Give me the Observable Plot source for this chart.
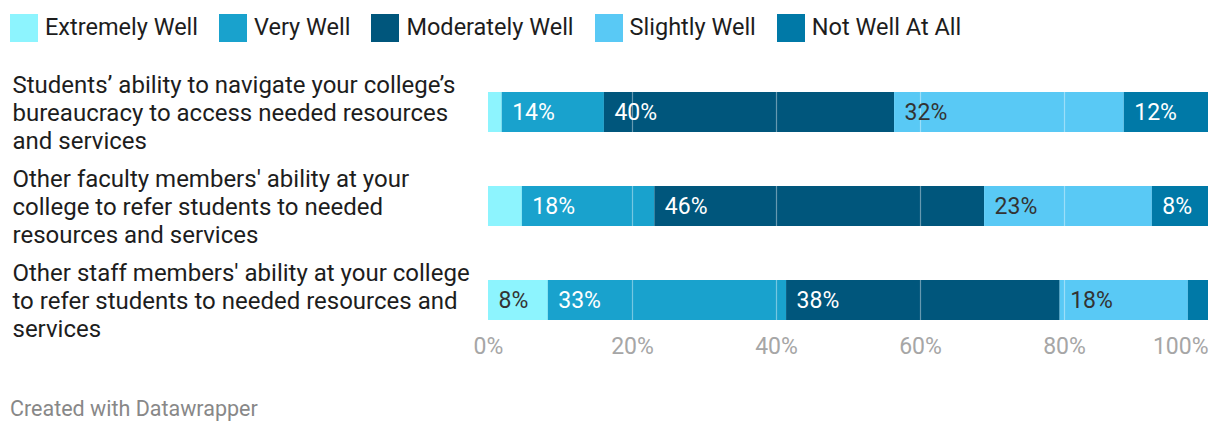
<!DOCTYPE html>
<html>
<head>
<meta charset="utf-8">
<script src="https://cdn.jsdelivr.net/npm/d3@7"></script>
<script src="https://cdn.jsdelivr.net/npm/@observablehq/plot@0.6"></script>
<style>
  body { margin: 0; background: #fff; font-family: Roboto, "Noto Sans", sans-serif; }
  #legend { height: 50px; display: flex; align-items: center; padding-left: 10px; box-sizing: border-box; padding-top: 6px; }
  .item { display: flex; align-items: center; margin-right: 21px; font-size: 23.5px; color: #1d1d1d; }
  .sw { width: 28px; height: 28px; margin-right: 7px; }
  .item span { position: relative; top: -1px; }
  #footer { font-size: 21.5px; color: #888; padding-left: 10px; margin-top: 16px; line-height: 26px; }
</style>
</head>
<body>
<div id="legend"></div>
<div id="chart"></div>
<div id="footer">Created with Datawrapper</div>
<script>
const questions = [
  "Students’ ability to navigate your college’s\nbureaucracy to access needed resources\nand services",
  "Other faculty members' ability at your\ncollege to refer students to needed\nresources and services",
  "Other staff members' ability at your college\nto refer students to needed resources and\nservices"
];
const categories = ["Extremely Well", "Very Well", "Moderately Well", "Slightly Well", "Not Well At All"];
const colors = ["#8df4fe", "#19a2cd", "#00567c", "#59c9f5", "#0079a7"];
const lightCategories = ["Extremely Well", "Slightly Well"];
// values (%) per question, in category order
const values = [
  [1.9, 14.2, 40.3, 31.9, 11.7],
  [4.7, 18.4, 45.8, 23.3, 7.8],
  [8.3, 33.1, 38.0, 17.8, 2.8]
];
const xTicks = [0, 20, 40, 60, 80, 100];
const gridTicks = [20, 40, 60, 80];

const data = [];
questions.forEach((q, i) => categories.forEach((c, j) => data.push({question: q, category: c, value: values[i][j]})));

const grid = [];
questions.forEach(q => gridTicks.forEach(t => grid.push({question: q, t})));

// legend
const legend = document.getElementById("legend");
categories.forEach((c, i) => {
  const it = document.createElement("div");
  it.className = "item";
  it.innerHTML = `<div class="sw" style="background:${colors[i]}"></div><span>${c}</span>`;
  legend.appendChild(it);
});

const labelMin = 6;
const lbl = light => d => (d.value >= labelMin && lightCategories.includes(d.category) === light) ? Math.round(d.value) + "%" : "";

const chart = Plot.plot({
  width: 1220,
  height: 330,
  marginLeft: 488,
  marginRight: 12,
  marginTop: 0,
  marginBottom: 50,
  style: {fontFamily: "Roboto, 'Noto Sans', sans-serif", background: "white"},
  x: {domain: [0, 100], axis: null},
  y: {domain: questions, range: [42, 270], paddingInner: 0.5745, paddingOuter: 0, axis: null},
  color: {domain: categories, range: colors},
  marks: [
    Plot.barX(data, {x: "value", y: "question", fill: "category", order: null}),
    Plot.tickX(grid, {x: "t", y: "question", stroke: "white", strokeOpacity: 0.4, strokeWidth: 1.2}),
    Plot.text(data, Plot.stackX1({
      x: "value", y: "question", order: null,
      text: lbl(false), fill: "white", textAnchor: "start", dx: 10, fontSize: 23
    })),
    Plot.text(data, Plot.stackX1({
      x: "value", y: "question", order: null,
      text: lbl(true), fill: "#333", textAnchor: "start", dx: 10, fontSize: 23
    })),
    Plot.text(questions, {
      y: d => d, text: d => d, frameAnchor: "left", dx: -476, textAnchor: "start",
      fontSize: 24, fill: "#1d1d1d", lineHeight: 28 / 24
    }),
    Plot.text(xTicks.filter(t => t < 100), {
      x: d => d, text: d => d + "%", frameAnchor: "bottom", dy: 23, fontSize: 23, fill: "#a6a6a6"
    }),
    Plot.text(xTicks.filter(t => t === 100), {
      x: d => d, text: d => d + "%", frameAnchor: "bottom", dy: 23, fontSize: 23, fill: "#a6a6a6", textAnchor: "end"
    })
  ]
});
document.getElementById("chart").appendChild(chart);
</script>
</body>
</html>
